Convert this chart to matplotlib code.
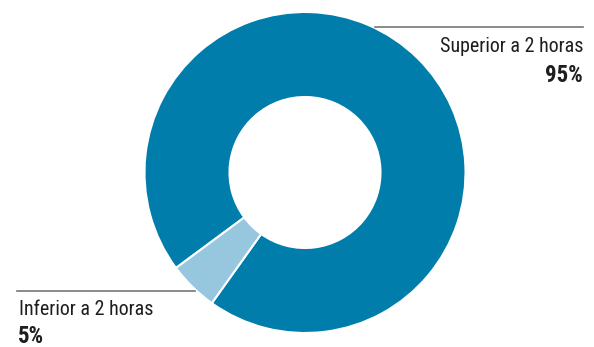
import matplotlib
matplotlib.use("Agg")
import matplotlib.pyplot as plt

categories = ["Superior a 2 horas", "Inferior a 2 horas"]
values = [95, 5]
labels_pct = ["95%", "5%"]
colors = ["#007dab", "#97c7df"]

W, H = 594, 347
fig = plt.figure(figsize=(W / 100, H / 100), dpi=100)
ax = fig.add_axes([0, 0, 1, 1])
ax.set_aspect("equal")

cx, cy = 305, H - 172.5
R = 160.5
ax.pie(values, colors=colors, startangle=234.5, counterclock=True,
       center=(cx, cy), radius=R,
       wedgeprops=dict(width=85, edgecolor="white", linewidth=1.5),
       frame=True)
ax.set_xlim(0, W)
ax.set_ylim(0, H)
ax.axis("off")

fam = ["Roboto Condensed", "DejaVu Sans"]
lc = "#777777"
tc = "#1e1e1e"
# top label
ax.plot([375, 583], [H - 27, H - 27], color=lc, lw=1.2)
ax.text(583, H - 52, categories[0], ha="right", va="baseline", fontsize=14.4,
        family=fam, color=tc)
ax.text(583, H - 82, labels_pct[0], ha="right", va="baseline", fontsize=16.5,
        family=fam, fontweight="bold", color=tc)
# bottom label
ax.plot([17, 195], [H - 291, H - 291], color=lc, lw=1.2)
ax.text(19, H - 315, categories[1], ha="left", va="baseline", fontsize=14.4,
        family=fam, color=tc)
ax.text(18, H - 343, labels_pct[1], ha="left", va="baseline", fontsize=16.5,
        family=fam, fontweight="bold", color=tc)

fig.savefig("out.png", dpi=100)
